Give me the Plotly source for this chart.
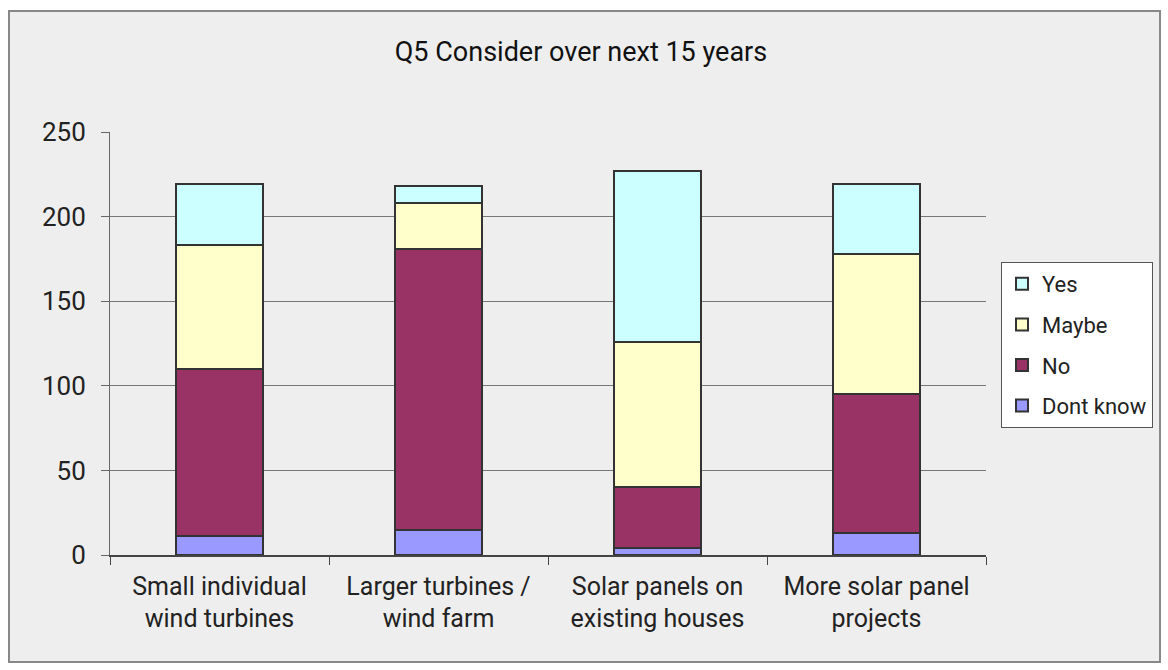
import plotly.graph_objects as go

categories = ["Small individual<br>wind turbines", "Larger turbines /<br>wind farm",
              "Solar panels on<br>existing houses", "More solar panel<br>projects"]
dont_know = [11, 15, 4, 13]
no = [99, 166, 36, 82]
maybe = [73, 27, 86, 83]
yes = [36, 10, 101, 41]

series = [("Dont know", dont_know, "#9999FF", 4),
          ("No", no, "#993366", 3),
          ("Maybe", maybe, "#FFFFCC", 2),
          ("Yes", yes, "#CCFFFF", 1)]

FONT = "Roboto, Liberation Sans, Arial, sans-serif"
fig = go.Figure()
for i, (name, vals, col, rank) in enumerate(series):
    fig.add_trace(go.Bar(x=categories, y=vals, name=name, legendgroup=f"g{i}",
                         legendrank=rank,
                         marker=dict(color=col, line=dict(color="#333333", width=2))))

L, R, T, B = 110, 182, 132, 115
W, H = 1168, 670
pw, ph = W - L - R, H - T - B

def px_x(x):
    return (x - L) / pw

def px_y(y):
    return (H - B - y) / ph

fig.update_layout(
    width=W, height=H,
    margin=dict(l=L, r=R, t=T, b=B),
    barmode="stack", bargap=0.6,
    paper_bgcolor="white", plot_bgcolor="#EEEEEE",
    font=dict(family=FONT, color="#222222"),
    title=dict(text="Q5 Consider over next 15 years", x=581 / W,
               xanchor="center", y=1 - 52 / H, yanchor="middle",
               font=dict(size=27, color="#111111", family=FONT, weight=400)),
    showlegend=True,
    legend=dict(x=px_x(1001), y=px_y(262), xanchor="left", yanchor="top",
                traceorder="grouped", tracegroupgap=9,
                bgcolor="white", bordercolor="#555555", borderwidth=1,
                font=dict(size=22, color="#222222", family=FONT),
                itemwidth=30),
    xaxis=dict(tickson="boundaries", ticks="outside", ticklen=8, tickcolor="#444444",
               showline=True, linecolor="#444444", linewidth=1.5,
               tickfont=dict(size=25, color="#222222", family=FONT),
               ticklabelstandoff=8,
               showgrid=False),
    yaxis=dict(range=[0, 250], tickvals=[0, 50, 100, 150, 200, 250],
               ticks="outside", ticklen=8, tickcolor="#666666",
               showline=True, linecolor="#666666", linewidth=1,
               showgrid=True, gridcolor="#777777", gridwidth=1,
               tickfont=dict(size=26, color="#222222", family=FONT),
               ticklabelstandoff=10,
               zeroline=False),
    shapes=[dict(type="rect", xref="paper", yref="paper", layer="below",
                 x0=px_x(9), x1=px_x(1160), y0=px_y(662), y1=px_y(11),
                 fillcolor="#EEEEEE", line=dict(color="#888888", width=2))],
)

fig.write_html("out.html", config={"displayModeBar": False},
               post_script="document.body.style.margin='0';")
